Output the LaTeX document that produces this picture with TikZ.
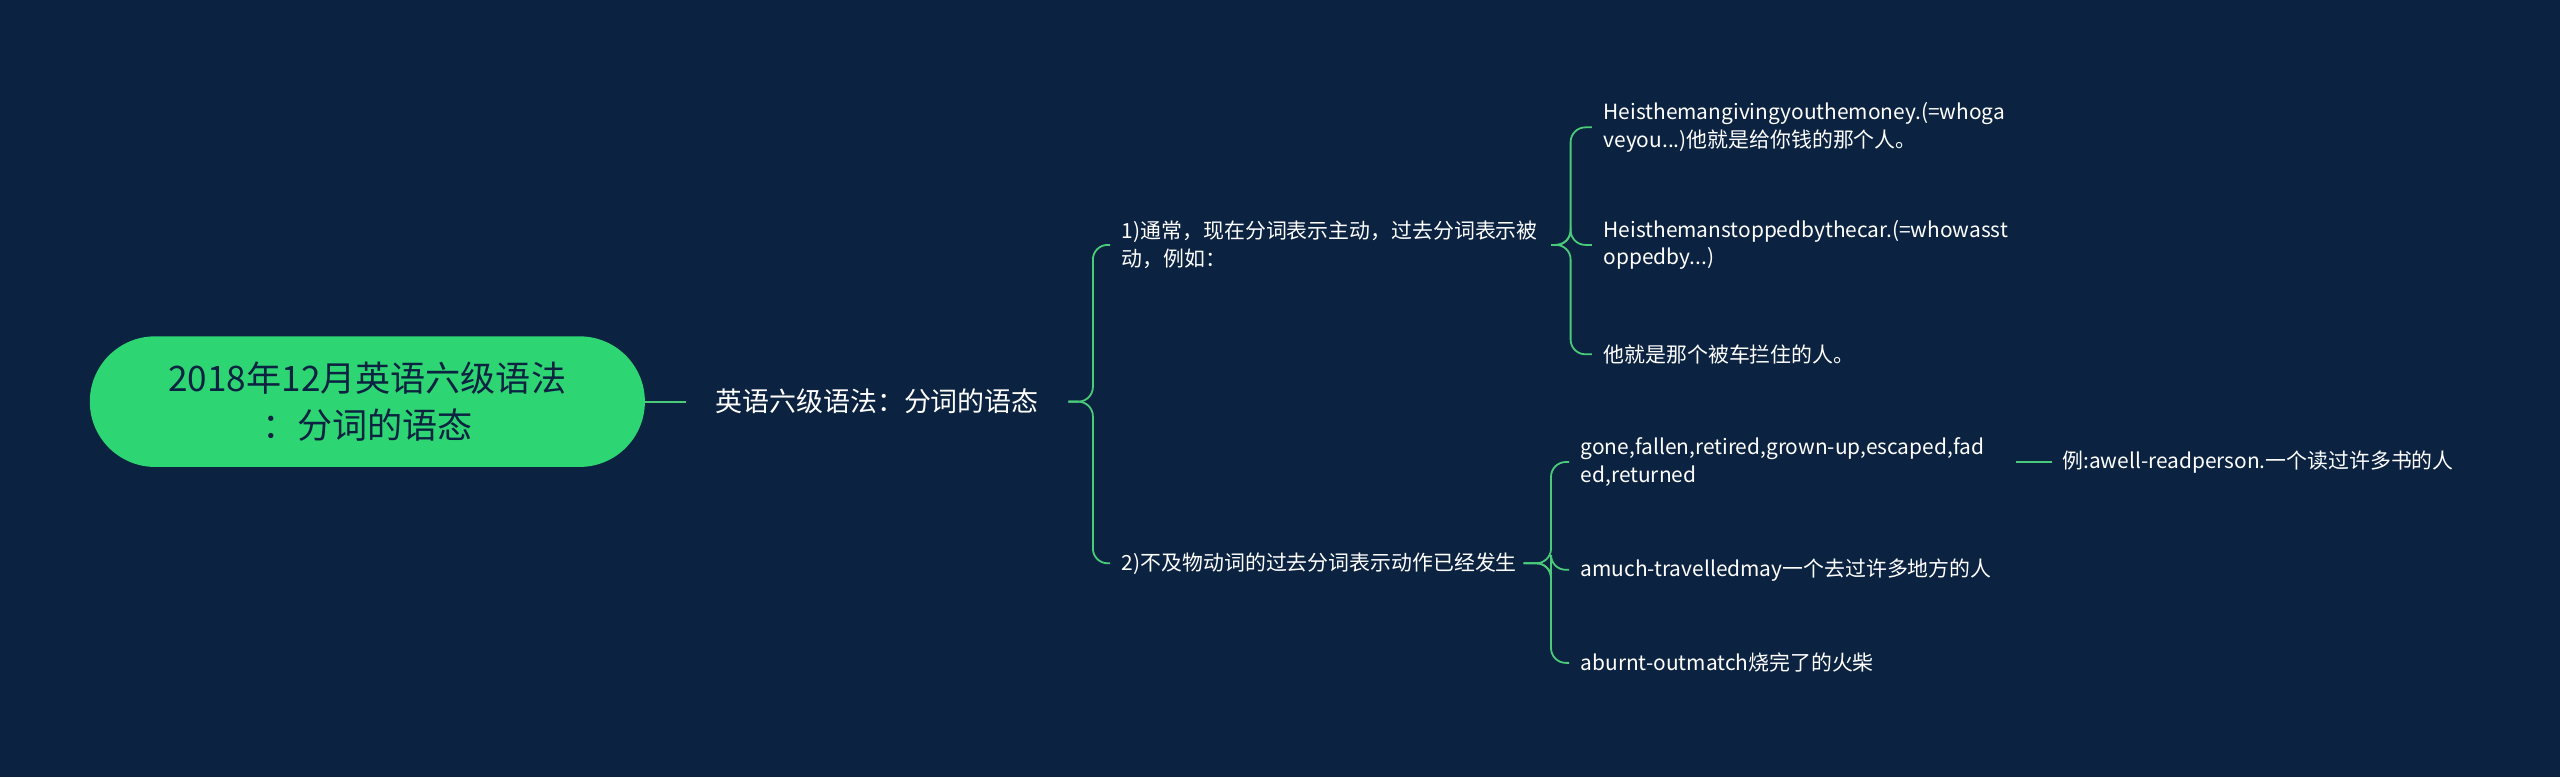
\documentclass[tikz,border=0pt]{standalone}
\usepackage{fontspec}
\setmainfont{Noto Sans CJK SC}
\definecolor{bgnavy}{HTML}{0B2240}
\definecolor{leafgreen}{HTML}{2ED573}
\definecolor{linegreen}{HTML}{4ACB7A}
\tikzset{
  txt/.style={anchor=west, inner sep=0pt, align=left, text=white, font=\fontsize{12.8}{17}\selectfont},
  branch/.style={draw=linegreen, line width=1.1pt, rounded corners=9pt},
}
\begin{document}
\begin{tikzpicture}[x=1pt, y=-1pt]
  \fill[bgnavy] (0,0) rectangle (1568,476);
  \useasboundingbox (0,0) rectangle (1568,476);

  \node[fill=leafgreen, rounded corners=40pt, minimum width=340pt, minimum height=80pt,
        align=center, text=bgnavy, font=\fontsize{21.5}{29}\selectfont] (root) at (225,246)
        {2018年12月英语六级语法\\：分词的语态};
  \node[txt, font=\fontsize{16.5}{20}\selectfont] (main) at (438,246) {英语六级语法：分词的语态};

  \node[txt] (a) at (687,150) {1)通常，现在分词表示主动，过去分词表示被\\动，例如：};
  \node[txt] (b) at (687,345) {2)不及物动词的过去分词表示动作已经发生};

  \node[txt] (a1) at (982,78) {Heisthemangivingyouthemoney.(=whoga\\veyou...)他就是给你钱的那个人。};
  \node[txt] (a2) at (982,150) {Heisthemanstoppedbythecar.(=whowasst\\oppedby...)};
  \node[txt] (a3) at (982,217) {他就是那个被车拦住的人。};

  \node[txt] (b1) at (968,283) {gone,fallen,retired,grown-up,escaped,fad\\ed,returned};
  \node[txt] (b2) at (968,349) {amuch-travelledmay一个去过许多地方的人};
  \node[txt] (b3) at (968,406) {aburnt-outmatch烧完了的火柴};
  \node[txt] (b11) at (1263,283) {例:awell-readperson.一个读过许多书的人};

  \draw[branch] (root.east) -- ([xshift=-18pt]main.west);
  \draw[branch] ([xshift=18pt]main.east) -- ++(15,0) |- ([xshift=-7pt]a.west);
  \draw[branch] ([xshift=18pt]main.east) -- ++(15,0) |- ([xshift=-7pt]b.west);
  \foreach \c in {a1,a2,a3}
    \draw[branch] (950,150) -- (962,150) |- ([xshift=-7pt]\c.west);
  \foreach \c in {b1,b2,b3}
    \draw[branch] ([xshift=4pt]b.east) -- (950,345) |- ([xshift=-7pt]\c.west);
  \draw[branch] (1235,283) -- ([xshift=-6pt]b11.west);
\end{tikzpicture}
\end{document}
